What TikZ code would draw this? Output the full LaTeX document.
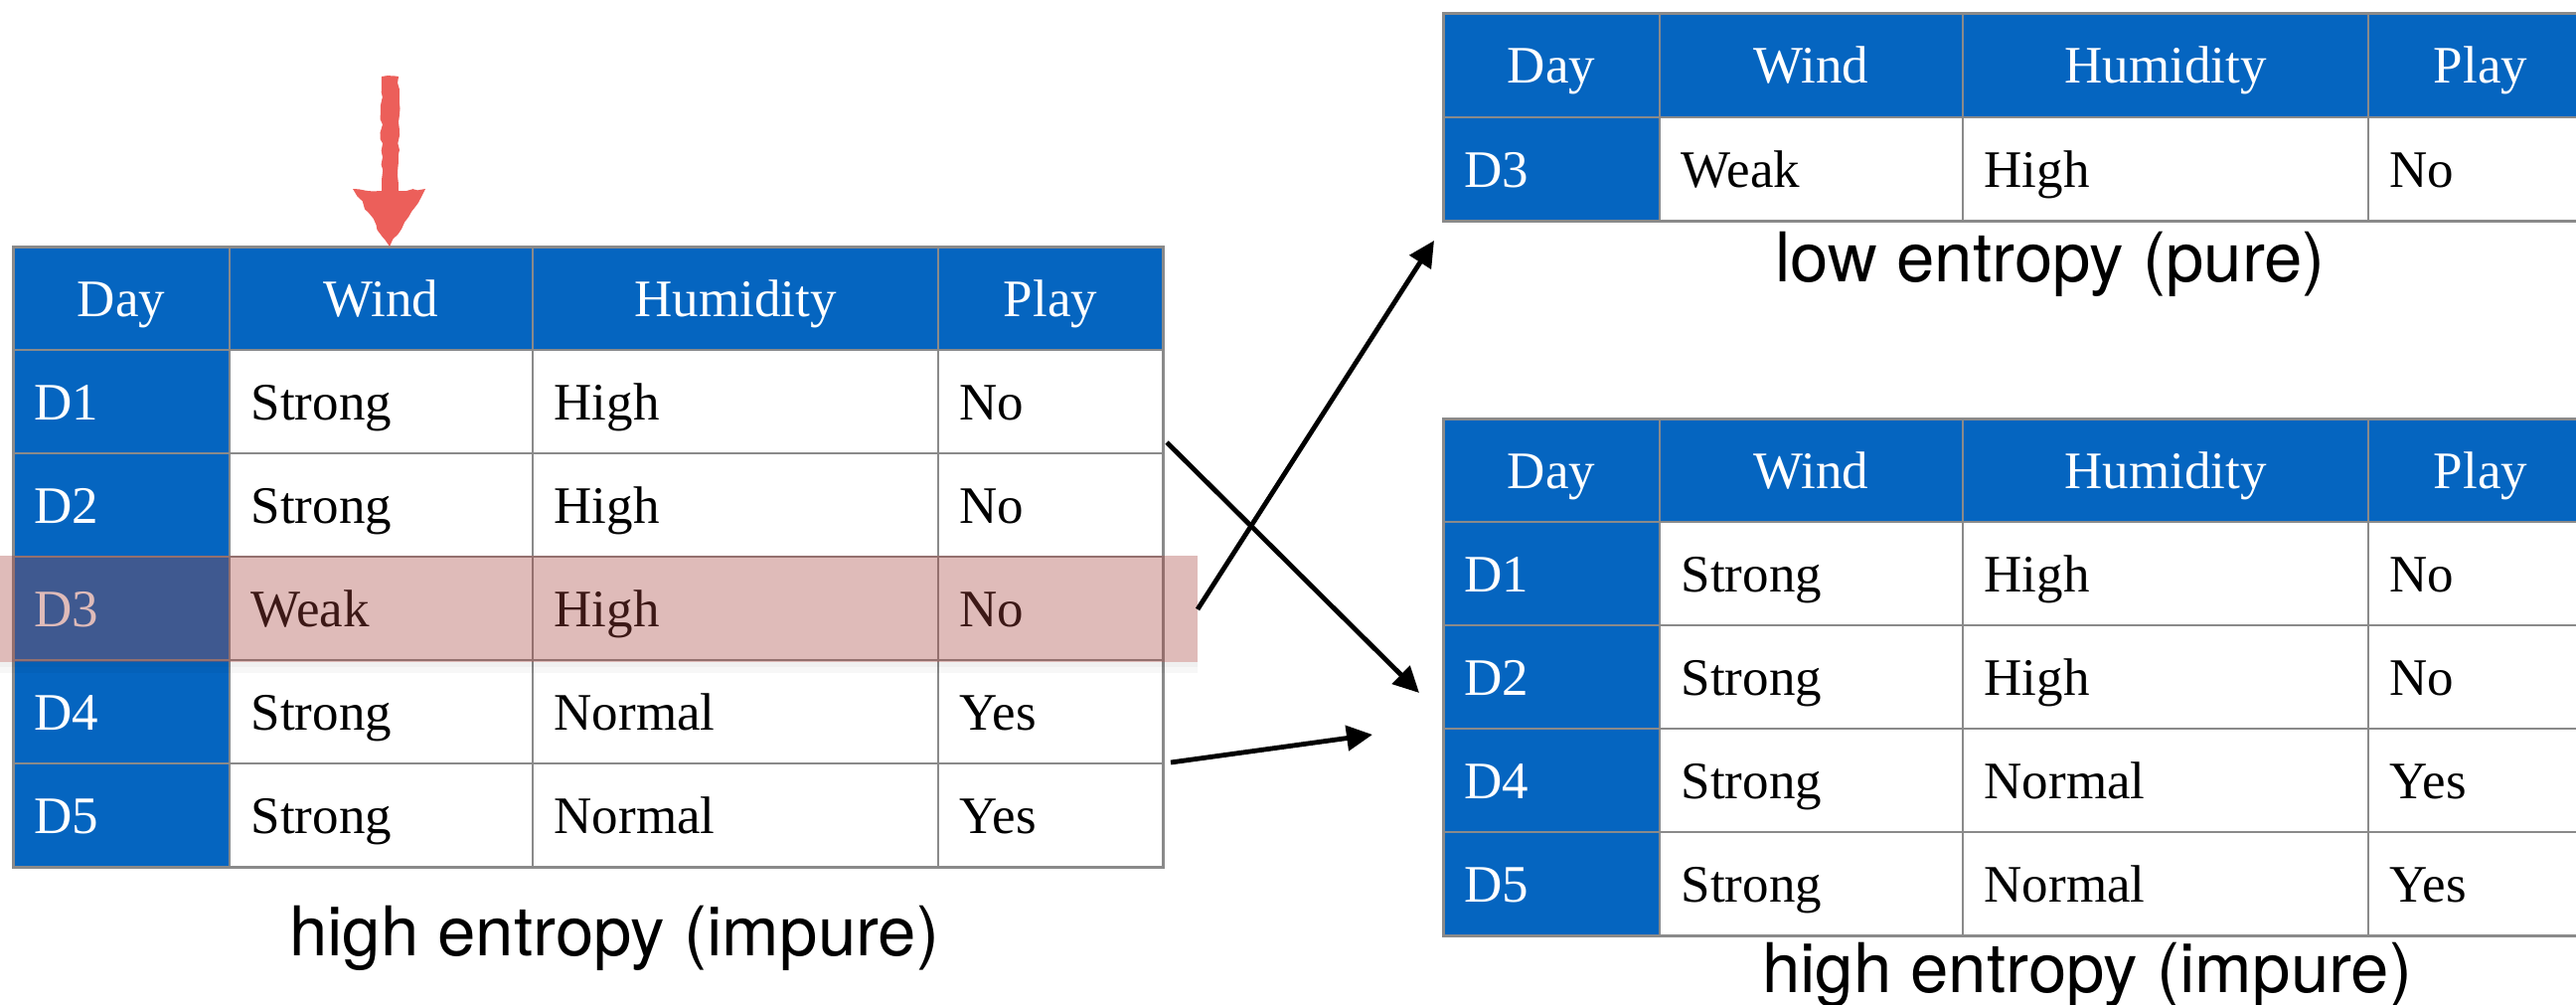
\documentclass[tikz,border=0pt]{standalone}
\usepackage{fontspec}
\setmainfont{Liberation Serif}
\newfontfamily\labelfont{TeX Gyre Heros}
\usetikzlibrary{arrows.meta,decorations.pathmorphing}

\definecolor{cellblue}{RGB}{5,101,192}
\definecolor{gridgray}{RGB}{138,138,138}
\definecolor{markred}{RGB}{236,95,90}
\definecolor{bandred}{RGB}{167,68,61}

\tikzset{
  gridline/.style={draw=gridgray, line width=0.6pt},
  frameline/.style={draw=gridgray, line width=0.9pt},
  headtext/.style={inner sep=0pt, anchor=base, text=white,
    font=\fontsize{15.9pt}{19pt}\selectfont},
  daytext/.style={inner sep=0pt, anchor=base west, text=white,
    font=\fontsize{15.9pt}{19pt}\selectfont},
  celltext/.style={inner sep=0pt, anchor=base west, text=black,
    font=\fontsize{15.9pt}{19pt}\selectfont},
  caption/.style={inner sep=0pt, anchor=base,
    font=\labelfont\fontsize{20.7pt}{24pt}\selectfont},
  conn/.style={-{Triangle[length=7.8pt,width=7.5pt]}, line width=1.45pt},
}

% table frame: #1 left x, #2 top y, #3 number of body rows
\newcommand\tableframe[3]{%
  \fill[cellblue] (#1,#2) rectangle ++(1157,104);
  \fill[cellblue] (#1,#2) rectangle ++(218,{104*(#3+1)});
  \foreach \r in {1,...,#3} \draw[gridline] (#1,{#2+104*\r}) -- ++(1157,0);
  \foreach \c in {218,523,931} \draw[gridline] (#1+\c,#2) -- ++(0,{104*(#3+1)});
  \draw[frameline] (#1,#2) rectangle ++(1157,{104*(#3+1)});
}
% header texts: #1 name prefix, #2 left x, #3 top y
\newcommand\headrow[3]{%
  \node[headtext] (#1-day)  at (#2+109,#3+70)   {Day};
  \node[headtext] (#1-wind) at (#2+370.5,#3+70) {Wind};
  \node[headtext] (#1-hum)  at (#2+727,#3+70)   {Humidity};
  \node[headtext] (#1-play) at (#2+1044,#3+70)  {Play};
}
% body row: #1 name prefix, #2 left x, #3 row top y, #4-#7 cell texts
\newcommand\bodyrow[7]{%
  \node[daytext]  (#1-a) at (#2+21,#3+70)  {#4};
  \node[celltext] (#1-b) at (#2+239,#3+70) {#5};
  \node[celltext] (#1-c) at (#2+544,#3+70) {#6};
  \node[celltext] (#1-d) at (#2+952,#3+70) {#7};
}

\begin{document}
\begin{tikzpicture}[x=0.3pt,y=-0.3pt]
\useasboundingbox (0,0) rectangle (2592,1010);
\clip (0,0) rectangle (2592,1010);
\fill[white] (0,0) rectangle (2592,1010);

% ---- full data set (left)
\tableframe{13}{248}{5}
\headrow{L}{13}{248}
\bodyrow{L1}{13}{352}{D1}{Strong}{High}{No}
\bodyrow{L2}{13}{456}{D2}{Strong}{High}{No}
\bodyrow{L3}{13}{560}{D3}{Weak}{High}{No}
\bodyrow{L4}{13}{664}{D4}{Strong}{Normal}{Yes}
\bodyrow{L5}{13}{768}{D5}{Strong}{Normal}{Yes}
\node[caption] (capL) at (618,961) {high entropy (impure)};

% highlighted row D3
\fill[black, opacity=0.06] (0,666) rectangle (1205,671);
\fill[black, opacity=0.03] (0,671) rectangle (1205,677);
\fill[bandred, opacity=0.36] (0,559) rectangle (1205,666);

% hand-drawn marker above the Wind column
\fill[markred, decorate, decoration={random steps, segment length=2pt, amplitude=0.5pt}]
  (384,77) -- (401,77) -- (401,192) -- (428,190) -- (392,248) -- (355,190) -- (384,192) -- cycle;

% ---- Wind = Weak (top right)
\tableframe{1452}{14}{1}
\headrow{P}{1452}{14}
\bodyrow{P1}{1452}{118}{D3}{Weak}{High}{No}
\node[caption] (capP) at (2063,283) {low entropy (pure)};

% ---- Wind = Strong (bottom right)
\tableframe{1452}{421}{4}
\headrow{S}{1452}{421}
\bodyrow{S1}{1452}{525}{D1}{Strong}{High}{No}
\bodyrow{S2}{1452}{629}{D2}{Strong}{High}{No}
\bodyrow{S4}{1452}{733}{D4}{Strong}{Normal}{Yes}
\bodyrow{S5}{1452}{837}{D5}{Strong}{Normal}{Yes}
\node[caption] (capS) at (2100,998) {high entropy (impure)};

% ---- split arrows
\coordinate (fromD1) at (1174,445);
\coordinate (fromD3) at (1205,613);
\coordinate (fromD45) at (1178,767);
\coordinate (toPure) at (1443,242);
\coordinate (toStrongA) at (1428,697);
\coordinate (toStrongB) at (1381,739);
\draw[conn] (fromD1) -- (toStrongA);
\draw[conn] (fromD3) -- (toPure);
\draw[conn] (fromD45) -- (toStrongB);
\end{tikzpicture}
\end{document}
